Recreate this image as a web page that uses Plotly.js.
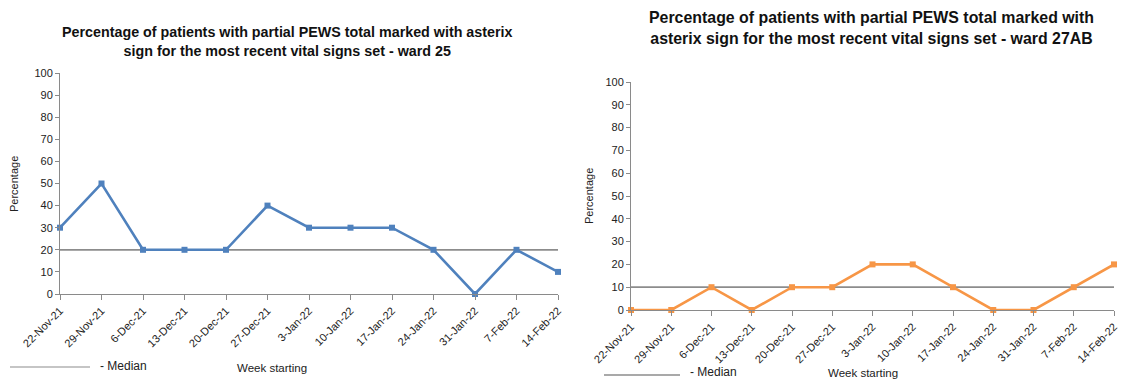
<!DOCTYPE html>
<html>
<head>
<meta charset="utf-8">
<script src="https://cdn.plot.ly/plotly-3.0.1.min.js"></script>
<style>
  html, body { margin: 0; padding: 0; background: #fff; }
  #chart { width: 1121px; height: 380px; }
</style>
</head>
<body>
<div id="chart"></div>
<script>
// Week starting dates shared by both wards
const weeks = ['22-Nov-21', '29-Nov-21', '6-Dec-21', '13-Dec-21', '20-Dec-21', '27-Dec-21',
               '3-Jan-22', '10-Jan-22', '17-Jan-22', '24-Jan-22', '31-Jan-22', '7-Feb-22', '14-Feb-22'];

// Percentage of patients with partial PEWS total marked with asterix sign
const ward25 = [30, 50, 20, 20, 20, 40, 30, 30, 30, 20, 0, 20, 10];
const ward27AB = [0, 0, 10, 0, 10, 10, 20, 20, 10, 0, 0, 10, 20];

// Median for each ward
const median25 = 20;
const median27AB = 10;

const yTicks = [0, 10, 20, 30, 40, 50, 60, 70, 80, 90, 100];

const FONT = 'Liberation Sans, Arial, sans-serif';
const AXIS_GREY = '#8a8a8a';
const MEDIAN_GREY = '#8c8c8c';

function medianTrace(value, xa, ya) {
  return {
    x: weeks, y: weeks.map(() => value), xaxis: xa, yaxis: ya,
    type: 'scatter', mode: 'lines', name: '- Median',
    line: { color: MEDIAN_GREY, width: 1.8 },
    hoverinfo: 'skip', showlegend: false, cliponaxis: false
  };
}

function wardTrace(values, color, xa, ya, name) {
  return {
    x: weeks, y: values, xaxis: xa, yaxis: ya,
    type: 'scatter', mode: 'lines+markers', name: name,
    line: { color: color, width: 2.6 },
    marker: { symbol: 'square', size: 6, color: color },
    showlegend: false, cliponaxis: false
  };
}

const traces = [
  medianTrace(median25, 'x', 'y'),
  wardTrace(ward25, '#4f81bd', 'x', 'y', 'Ward 25'),
  medianTrace(median27AB, 'x2', 'y2'),
  wardTrace(ward27AB, '#f79646', 'x2', 'y2', 'Ward 27AB')
];

function xAxis(domain, anchor) {
  return {
    domain: domain, anchor: anchor, type: 'category',
    range: [0, weeks.length - 1], fixedrange: true,
    showgrid: false, zeroline: false,
    showline: true, linecolor: AXIS_GREY, linewidth: 1,
    ticks: 'outside', ticklen: 5, tickcolor: AXIS_GREY,
    tickangle: -45, tickfont: { family: FONT, size: 11, color: '#222' }
  };
}

function yAxis(domain, anchor) {
  return {
    domain: domain, anchor: anchor, range: [0, 100], fixedrange: true,
    tickvals: yTicks, ticktext: yTicks.map(String),
    showgrid: false, zeroline: false,
    showline: true, linecolor: AXIS_GREY, linewidth: 1,
    ticks: 'outside', ticklen: 4, tickcolor: AXIS_GREY,
    tickfont: { family: FONT, size: 11, color: '#222' }
  };
}

const W = 1121, H = 380;
const px = v => v / W;
const py = v => 1 - v / H;

const layout = {
  width: W, height: H,
  margin: { l: 0, r: 0, t: 0, b: 0 },
  paper_bgcolor: '#fff', plot_bgcolor: '#fff',
  showlegend: false,
  xaxis: xAxis([px(60), px(558)], 'y'),
  yaxis: yAxis([py(294), py(73)], 'x'),
  xaxis2: xAxis([px(631), px(1114)], 'y2'),
  yaxis2: yAxis([py(310), py(82)], 'x2'),
  annotations: [
    {
      text: '<b>Percentage of patients with partial PEWS total marked with asterix<br>sign for the most recent vital signs set - ward 25</b>',
      xref: 'paper', yref: 'paper', x: px(287), y: py(41), xanchor: 'center', yanchor: 'middle',
      showarrow: false, font: { family: FONT, size: 14.3, color: '#111' }
    },
    {
      text: '<b>Percentage of patients with partial PEWS total marked with<br>asterix sign for the most recent vital signs set - ward 27AB</b>',
      xref: 'paper', yref: 'paper', x: px(871), y: py(28), xanchor: 'center', yanchor: 'middle',
      showarrow: false, font: { family: FONT, size: 15.9, color: '#111' }
    },
    {
      text: 'Percentage', textangle: -90,
      xref: 'paper', yref: 'paper', x: px(14), y: py(184), xanchor: 'center', yanchor: 'middle',
      showarrow: false, font: { family: FONT, size: 11, color: '#222' }
    },
    {
      text: 'Percentage', textangle: -90,
      xref: 'paper', yref: 'paper', x: px(589), y: py(196), xanchor: 'center', yanchor: 'middle',
      showarrow: false, font: { family: FONT, size: 11, color: '#222' }
    },
    {
      text: 'Week starting',
      xref: 'paper', yref: 'paper', x: px(272), y: py(368), xanchor: 'center', yanchor: 'middle',
      showarrow: false, font: { family: FONT, size: 11.5, color: '#222' }
    },
    {
      text: 'Week starting',
      xref: 'paper', yref: 'paper', x: px(863), y: py(373), xanchor: 'center', yanchor: 'middle',
      showarrow: false, font: { family: FONT, size: 11.5, color: '#222' }
    },
    {
      text: '- Median',
      xref: 'paper', yref: 'paper', x: px(98), y: py(366), xanchor: 'left', yanchor: 'middle',
      showarrow: false, font: { family: FONT, size: 12, color: '#222' }
    },
    {
      text: '- Median',
      xref: 'paper', yref: 'paper', x: px(688), y: py(372), xanchor: 'left', yanchor: 'middle',
      showarrow: false, font: { family: FONT, size: 12, color: '#222' }
    }
  ],
  shapes: [
    // legend keys for the median lines
    { type: 'line', xref: 'paper', yref: 'paper', x0: px(10), x1: px(90), y0: py(367), y1: py(367),
      line: { color: MEDIAN_GREY, width: 1.2 } },
    { type: 'line', xref: 'paper', yref: 'paper', x0: px(604), x1: px(680), y0: py(375), y1: py(375),
      line: { color: MEDIAN_GREY, width: 1.6 } }
  ]
};

Plotly.newPlot('chart', traces, layout, { displayModeBar: false, staticPlot: true });
</script>
</body>
</html>
